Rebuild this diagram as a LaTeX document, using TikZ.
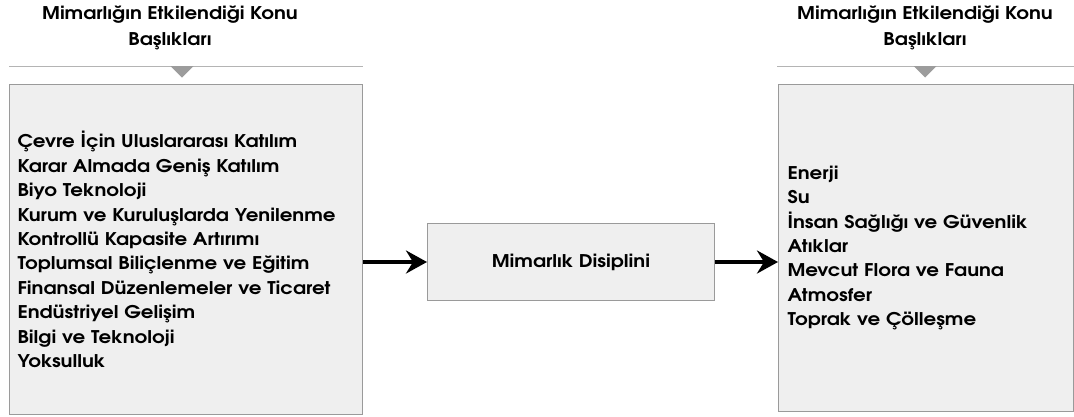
\documentclass[tikz,border=0pt]{standalone}
\usepackage{fontspec}
\setmainfont{TeX Gyre Adventor}[FakeStretch=1.13]
\usetikzlibrary{arrows.meta}
\definecolor{boxfill}{HTML}{EFEFEF}
\definecolor{boxline}{HTML}{9A9A9A}
\definecolor{sepcol}{HTML}{B4B4B4}
\definecolor{tricol}{HTML}{9C9C9C}
\begin{document}
\begin{tikzpicture}[x=1pt,y=-1pt,
  panel/.style={draw=boxline, fill=boxfill, line width=1pt, rectangle, inner ysep=0pt,
    align=left, font=\bfseries\fontsize{17.5}{24.4}\selectfont, text=black},
  midbox/.style={draw=boxline, fill=boxfill, line width=1pt, rectangle, inner sep=0pt,
    minimum width=287pt, minimum height=77pt, font=\bfseries\fontsize{17.5}{24.4}\selectfont},
  title/.style={align=center, font=\bfseries\fontsize{17.5}{26}\selectfont, inner sep=0pt},
  sepline/.style={draw=sepcol, line width=0.8pt},
  marker/.style={fill=tricol},
  arr/.style={draw=black, line width=4pt, -{Stealth[length=21pt,width=23pt,inset=7pt]}}]
\useasboundingbox (0,0) rectangle (1074,416);
% titles
\node[title] (lt) at (170,28) {Mimarlığın Etkilendiği Konu\\Başlıkları};
\node[title] (rt) at (925,28) {Mimarlığın Etkilendiği Konu\\Başlıkları};
% separators and markers
\draw[sepline] (9,66.5) -- (363,66.5);
\draw[sepline] (777,66.5) -- (1074,66.5);
\fill[marker] (170.5,66) -- (193.5,66) -- (182,77.5) -- cycle;
\fill[marker] (913.5,66) -- (936.5,66) -- (925,77.5) -- cycle;
% boxes
\node[panel, anchor=north west, minimum width=353pt, minimum height=330pt,
  text width=337pt, inner xsep=8pt] (lbox) at (9,84)
  {Çevre İçin Uluslararası Katılım\\
   Karar Almada Geniş Katılım\\
   Biyo Teknoloji\\
   Kurum ve Kuruluşlarda Yenilenme\\
   Kontrollü Kapasite Artırımı\\
   Toplumsal Biliçlenme ve Eğitim\\
   Finansal Düzenlemeler ve Ticaret\\
   Endüstriyel Gelişim\\
   Bilgi ve Teknoloji\\
   Yoksulluk};
\node[midbox, anchor=north west] (mid) at (427,223) {Mimarlık Disiplini};
\node[panel, anchor=north west, minimum width=295pt, minimum height=327pt,
  text width=277pt, inner xsep=9pt] (rbox) at (778,84)
  {Enerji\\
   Su\\
   İnsan Sağlığı ve Güvenlik\\
   Atıklar\\
   Mevcut Flora ve Fauna\\
   Atmosfer\\
   Toprak ve Çölleşme};
% arrows
\draw[arr] (lbox.east |- mid.west) -- (mid.west);
\draw[arr] (mid.east) -- (rbox.west |- mid.east);
\end{tikzpicture}
\end{document}
